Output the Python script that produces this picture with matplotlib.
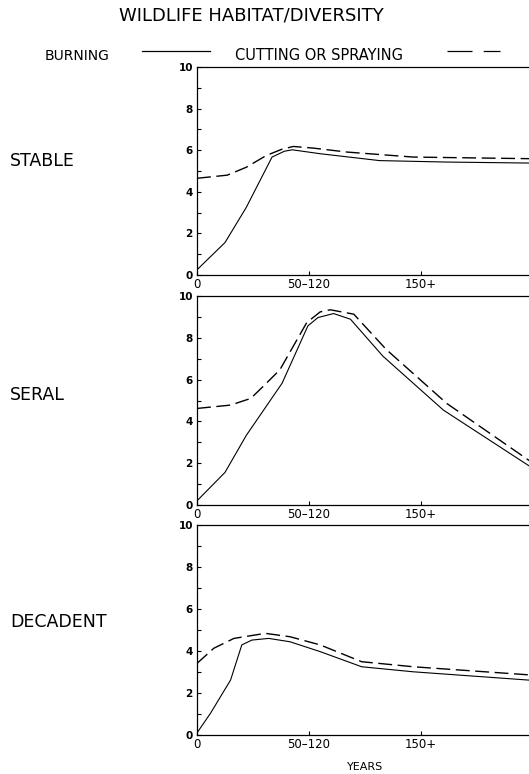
import matplotlib.pyplot as plt
from matplotlib.ticker import MultipleLocator

# x positions are in tick units: 0 -> "0", 1 -> "50-120", 2 -> "150+"
tick_pos = [0, 1, 2]
tick_labels = ["0", "50\u2013120", "150+"]
panel_names = ["STABLE", "SERAL", "DECADENT"]

# STABLE
stable_burn_x = [0, 0.25, 0.44, 0.67, 0.78, 0.85, 1.1, 1.63, 2.23, 3.0]
stable_burn_y = [0.25, 1.56, 3.25, 5.67, 5.95, 6.02, 5.83, 5.5, 5.43, 5.38]
stable_cut_x = [0, 0.27, 0.44, 0.62, 0.76, 0.86, 1.04, 1.34, 1.93, 3.0]
stable_cut_y = [4.65, 4.8, 5.18, 5.75, 6.05, 6.18, 6.1, 5.91, 5.67, 5.59]

# SERAL
seral_burn_x = [0, 0.25, 0.44, 0.76, 0.99, 1.08, 1.22, 1.37, 1.66, 2.2, 3.0]
seral_burn_y = [0.2, 1.56, 3.33, 5.83, 8.57, 8.97, 9.16, 8.89, 7.12, 4.54, 1.75]
seral_cut_x = [0, 0.3, 0.48, 0.59, 0.74, 0.98, 1.1, 1.19, 1.4, 1.69, 2.23, 3.0]
seral_cut_y = [4.62, 4.78, 5.1, 5.67, 6.47, 8.73, 9.24, 9.34, 9.13, 7.44, 4.86, 2.0]

# DECADENT
decadent_burn_x = [0, 0.12, 0.3, 0.4, 0.49, 0.64, 0.83, 1.1, 1.47, 1.93, 3.0]
decadent_burn_y = [0.1, 1.03, 2.62, 4.29, 4.52, 4.6, 4.44, 3.97, 3.25, 3.01, 2.6]
decadent_cut_x = [0, 0.15, 0.33, 0.61, 0.83, 1.1, 1.47, 1.93, 3.0]
decadent_cut_y = [3.41, 4.13, 4.6, 4.84, 4.68, 4.29, 3.49, 3.25, 2.85]

burning = [(stable_burn_x, stable_burn_y), (seral_burn_x, seral_burn_y),
           (decadent_burn_x, decadent_burn_y)]
cutting = [(stable_cut_x, stable_cut_y), (seral_cut_x, seral_cut_y),
           (decadent_cut_x, decadent_cut_y)]

W, H = 529, 774
fig = plt.figure(figsize=(W / 100, H / 100), dpi=100)

# panel top/bottom in pixels, and where each row label sits
panels_px = [(67, 275), (296, 505), (525, 735)]
label_y_px = [161, 395, 622]
ax_left, ax_right = 197, 533

for i, (top, bottom) in enumerate(panels_px):
    ax = fig.add_axes([ax_left / W, 1 - bottom / H, (ax_right - ax_left) / W,
                       (bottom - top) / H])
    bx, by = burning[i]
    cx, cy = cutting[i]
    ax.plot(bx, by, color="black", lw=0.8)
    ax.plot(cx, cy, color="black", lw=1.0, dashes=(10, 4))
    ax.set_xlim(0, 3)
    ax.set_ylim(0, 10)
    ax.set_xticks(tick_pos)
    ax.set_xticklabels(tick_labels, fontsize=8.5)
    ax.yaxis.set_major_locator(MultipleLocator(2))
    ax.yaxis.set_minor_locator(MultipleLocator(1))
    ax.tick_params(axis="both", which="both", direction="in", length=3,
                   width=0.8, top=False, right=False)
    ax.tick_params(axis="x", pad=2)
    ax.tick_params(axis="y", pad=3, labelsize=7.5)
    for lab in ax.get_yticklabels():
        lab.set_fontweight("bold")
    for sp in ax.spines.values():
        sp.set_linewidth(0.9)
    fig.text(10 / W, 1 - label_y_px[i] / H, panel_names[i],
             fontsize=12.5, ha="left", va="center")
    if i == 2:
        ax.set_xlabel("YEARS", fontsize=8, labelpad=8)

fig.text(251 / W, 1 - 15 / H, "WILDLIFE HABITAT/DIVERSITY", fontsize=13,
         ha="center", va="center")
fig.text(45 / W, 1 - 56 / H, "BURNING", fontsize=10, ha="left", va="center")
fig.text(235 / W, 1 - 56 / H, "CUTTING OR SPRAYING", fontsize=10.5,
         ha="left", va="center")
fig.add_artist(plt.Line2D([142 / W, 210 / W], [1 - 51 / H, 1 - 51 / H],
                          color="black", lw=0.9))
fig.add_artist(plt.Line2D([447 / W, 500 / W], [1 - 51 / H, 1 - 51 / H],
                          color="black", lw=0.9, dashes=(20, 9)))

fig.savefig("out.png", dpi=100)
